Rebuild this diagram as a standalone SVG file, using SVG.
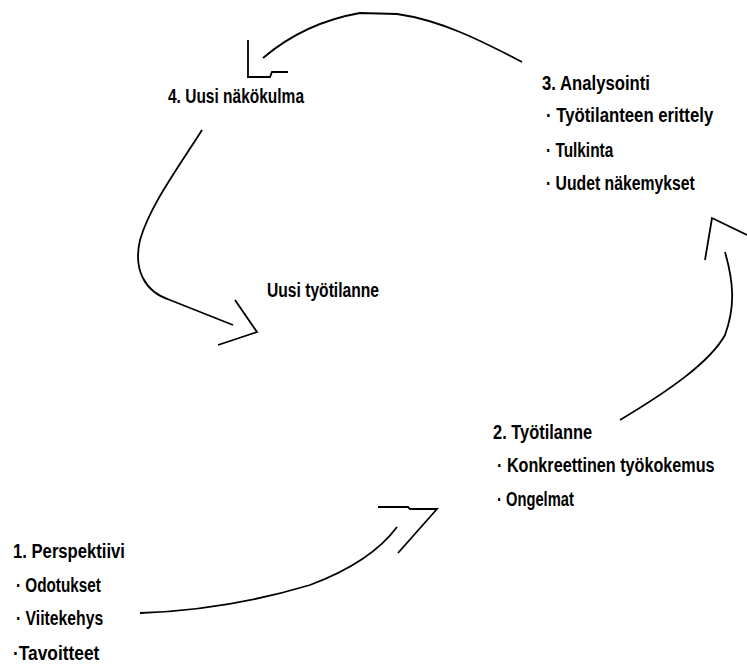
<svg xmlns="http://www.w3.org/2000/svg" width="747" height="668" viewBox="0 0 747 668">
<style>
.t{font-family:"Liberation Sans","DejaVu Sans",sans-serif;font-weight:bold;font-size:21px;fill:#000}
.c{fill:none;stroke:#000;stroke-width:1.8;stroke-linejoin:miter;stroke-linecap:butt}
</style>
<rect width="747" height="668" fill="#fff"/>
<g id="connectors">
  <path class="c" d="M140,613 C200,611 260,600 310,585 C350,570 380,550 397,527"/>
  <polyline class="c" points="378,507 408,507 410,509 437,509 398,553"/>
  <path class="c" d="M620,420 C670,390 710,362 725,335 C736,305 733,280 725,252"/>
  <polyline class="c" points="705,260 712,218 747,235"/>
  <path class="c" d="M522,62 C480,40 440,20 397,14 L360,13 C320,20 290,35 263,58"/>
  <polyline class="c" points="248,40 248,77 270,77 272,72 288,72"/>
  <path class="c" d="M202,130 C180,165 150,205 140,240 C133,270 145,292 170,300 C195,310 215,318 233,325"/>
  <polyline class="c" points="235,300 257,332 218,345"/>
</g>
<g id="node1">
  <text class="t" transform="translate(13,558) scale(0.8,1)" textLength="140" lengthAdjust="spacingAndGlyphs">1. Perspektiivi</text>
  <text class="t" transform="translate(16,592) scale(0.8,1)" textLength="106" lengthAdjust="spacingAndGlyphs">· Odotukset</text>
  <text class="t" transform="translate(16,625) scale(0.8,1)" textLength="109" lengthAdjust="spacingAndGlyphs">· Viitekehys</text>
  <text class="t" transform="translate(13,660) scale(0.8,1)" textLength="108" lengthAdjust="spacingAndGlyphs">·Tavoitteet</text>
</g>
<g id="node2">
  <text class="t" transform="translate(493,439) scale(0.8,1)" textLength="124" lengthAdjust="spacingAndGlyphs">2. Työtilanne</text>
  <text class="t" transform="translate(497,472) scale(0.8,1)" textLength="272" lengthAdjust="spacingAndGlyphs">· Konkreettinen työkokemus</text>
  <text class="t" transform="translate(497,506) scale(0.8,1)" textLength="96" lengthAdjust="spacingAndGlyphs">· Ongelmat</text>
</g>
<g id="node3">
  <text class="t" transform="translate(542,90) scale(0.8,1)" textLength="135" lengthAdjust="spacingAndGlyphs">3. Analysointi</text>
  <text class="t" transform="translate(546,122) scale(0.8,1)" textLength="209" lengthAdjust="spacingAndGlyphs">· Työtilanteen erittely</text>
  <text class="t" transform="translate(546,157) scale(0.8,1)" textLength="84" lengthAdjust="spacingAndGlyphs">· Tulkinta</text>
  <text class="t" transform="translate(546,190) scale(0.8,1)" textLength="186" lengthAdjust="spacingAndGlyphs">· Uudet näkemykset</text>
</g>
<g id="node4">
  <text class="t" transform="translate(168,103) scale(0.8,1)" textLength="170" lengthAdjust="spacingAndGlyphs">4. Uusi näkökulma</text>
</g>
<g id="node5">
  <text class="t" transform="translate(267,297) scale(0.8,1)" textLength="140" lengthAdjust="spacingAndGlyphs">Uusi työtilanne</text>
</g>
</svg>
